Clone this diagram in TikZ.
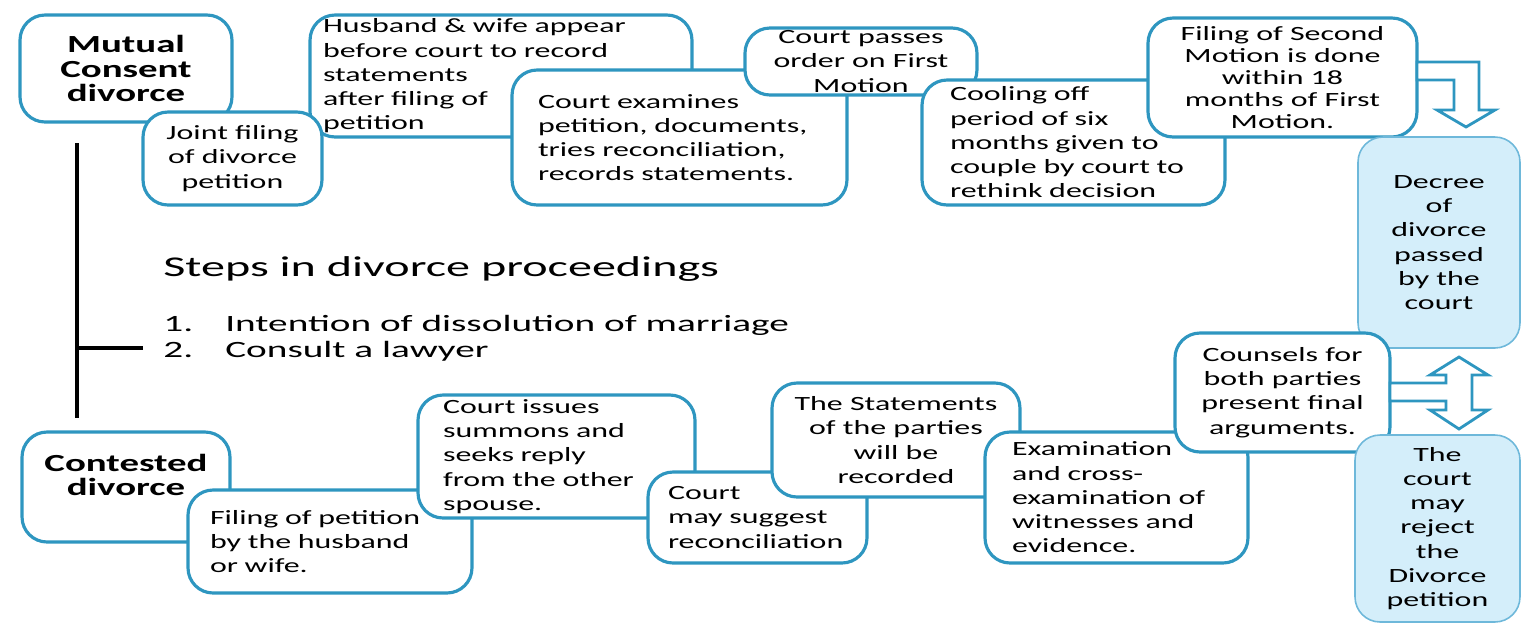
\documentclass[tikz,border=0pt]{standalone}
\usepackage{fontspec}
\setmainfont{Carlito}
\newfontfamily\boxfont[FakeStretch=1.58]{Carlito}
\newfontfamily\headfont[FakeStretch=1.68]{Carlito}

\definecolor{stepblue}{RGB}{46,150,192}
\definecolor{endfill}{RGB}{212,238,250}
\definecolor{endline}{RGB}{110,184,218}

\tikzset{
  stepbox/.style={draw=stepblue, line width=1.8pt, rounded corners=0.5cm,
    fill=white, inner sep=0pt, align=left,
    font=\boxfont\fontsize{11.5}{13.8}\selectfont},
  titlebox/.style={stepbox, align=center,
    font=\boxfont\bfseries\fontsize{14}{13.8}\selectfont},
  endbox/.style={stepbox, draw=endline, line width=0.9pt, fill=endfill, align=center},
  blockarrow/.style={draw=stepblue, line width=1.6pt, fill=white},
  trunk/.style={line width=2.2pt, black},
  headtext/.style={inner sep=0pt, font=\headfont\fontsize{16.3}{19}\selectfont},
  itemtext/.style={inner sep=0pt, font=\headfont\fontsize{13.3}{16}\selectfont}
}

\begin{document}
\begin{tikzpicture}[x=0.02cm, y=-0.02cm]
    \useasboundingbox (0,0) rectangle (1526,626);

    % ----- mutual consent row -----
    \node[titlebox, minimum width=4.24cm, minimum height=2.14cm] (mutual) at (126,68.5)
        {Mutual\\Consent\\divorce};
    \node[stepbox, minimum width=7.64cm, minimum height=2.44cm, text width=7.12cm] (appear) at (501,76)
        {Husband \& wife appear\\before court to record\\statements\\after filing of\\petition};
    \node[stepbox, align=center, minimum width=3.58cm, minimum height=1.86cm] (joint) at (232.5,158.5)
        {Joint filing\\of divorce\\petition};
    \node[stepbox, minimum width=6.70cm, minimum height=2.70cm, text width=5.66cm] (examine) at (679.5,137.5)
        {Court examines\\petition, documents,\\tries reconciliation,\\records statements.};
    \node[stepbox, align=center, minimum width=4.64cm, minimum height=1.34cm] (firstorder) at (861,61.5)
        {Court passes\\order on First\\Motion};
    \node[stepbox, minimum width=6.06cm, minimum height=2.50cm, text width=4.94cm] (cooling) at (1073.5,142.5)
        {Cooling off\\period of six\\months given to\\couple by court to\\rethink decision};
    \node[stepbox, align=center, minimum width=5.38cm, minimum height=2.38cm,
        font=\boxfont\fontsize{11.5}{12.4}\selectfont] (second) at (1282.5,77.5)
        {Filing of Second\\Motion is done\\within 18\\months of First\\Motion.};

    % bent arrow down to the decree
    \draw[blockarrow] (1417,62) -- (1479,62) -- (1479,110) -- (1495,110) -- (1466,127)
        -- (1437,110) -- (1454,110) -- (1454,80) -- (1417,80) -- cycle;

    \node[endbox, minimum width=3.24cm, minimum height=4.22cm] (decree) at (1439,242.5)
        {Decree\\of\\divorce\\passed\\by the\\court};

    % ----- contested row -----
    \node[titlebox, minimum width=4.16cm, minimum height=2.20cm] (contested) at (126,487)
        {Contested\\divorce\\\mbox{}};
    \node[stepbox, minimum width=5.68cm, minimum height=2.06cm, text width=4.80cm] (filing) at (330,541.5)
        {Filing of petition\\by the husband\\or wife.};
    \node[stepbox, minimum width=5.54cm, minimum height=2.46cm, text width=4.54cm] (summons) at (556.5,456.5)
        {Court issues\\summons and\\seeks reply\\from the other\\spouse.};
    \node[stepbox, minimum width=4.38cm, minimum height=1.82cm, text width=3.58cm] (suggest) at (757.5,517.5)
        {Court\\may suggest\\reconciliation};
    \node[stepbox, align=center, minimum width=4.96cm, minimum height=2.28cm] (statements) at (896,440)
        {The Statements\\of the parties\\will be\\recorded};
    \node[stepbox, minimum width=5.26cm, minimum height=2.62cm, text width=4.18cm] (crossexam) at (1116.5,497.5)
        {Examination\\and cross-\\examination of\\witnesses and\\evidence.};
    \node[stepbox, align=center, minimum width=4.30cm, minimum height=2.38cm] (counsels) at (1282.5,392.5)
        {Counsels for\\both parties\\present final\\arguments.};

    % double arrow between the two outcomes
    \draw[blockarrow] (1390,383) -- (1446,383) -- (1446,375) -- (1430,375) -- (1459,357)
        -- (1488,375) -- (1472,375) -- (1472,410) -- (1488,410) -- (1459,429)
        -- (1430,410) -- (1446,410) -- (1446,401) -- (1390,401) -- cycle;

    \node[endbox, minimum width=3.30cm, minimum height=3.74cm] (reject) at (1437.5,528.5)
        {The\\court\\may\\reject\\the\\Divorce\\petition};

    % ----- steps in the middle -----
    \node[headtext, anchor=base west] (steps) at (163,276) {Steps in divorce proceedings};
    \node[itemtext, anchor=base west] (item1) at (163,331)
        {\makebox[1.24cm][l]{1.}Intention of dissolution of marriage};
    \node[itemtext, anchor=base west] (item2) at (163,357)
        {\makebox[1.24cm][l]{2.}Consult a lawyer};

    % black trunk and tick
    \coordinate (trunktop) at (77,143);
    \coordinate (trunkbot) at (77,418);
    \coordinate (tick) at (77,348);
    \draw[trunk] (trunktop) -- (trunkbot);
    \draw[trunk, shorten >=0.4cm] (tick) -- (tick -| item2.west);
\end{tikzpicture}
\end{document}
